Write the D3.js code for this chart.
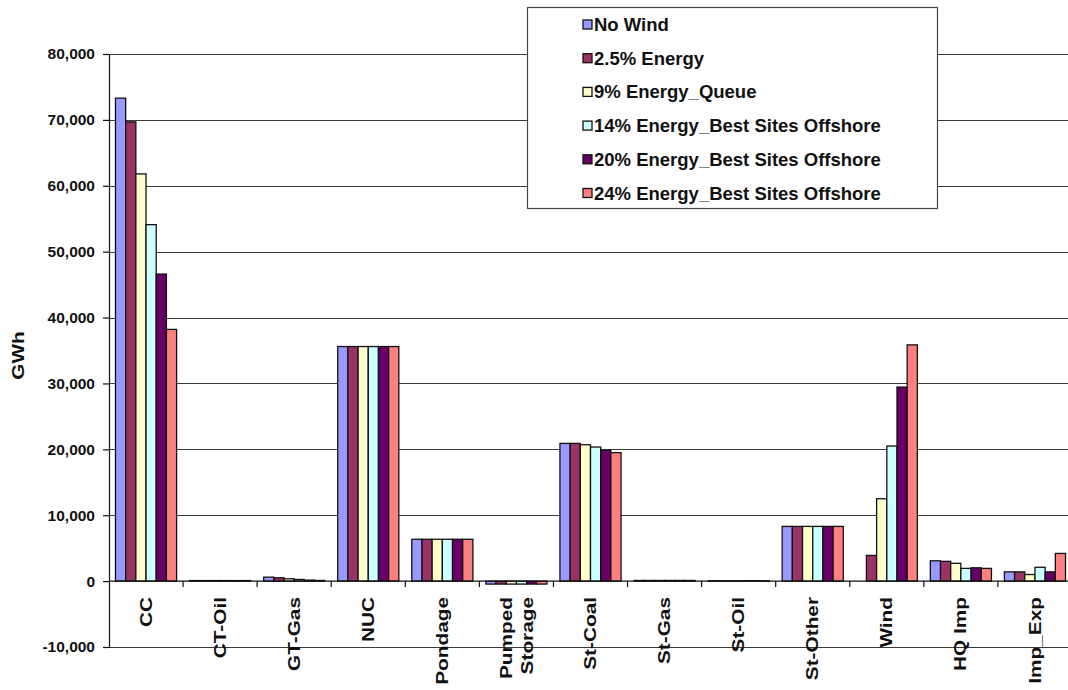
<!DOCTYPE html>
<html>
<head>
<meta charset="utf-8">
<script src="https://cdn.jsdelivr.net/npm/d3@7/dist/d3.min.js"></script>
<style>
  html, body { margin: 0; padding: 0; background: #ffffff; }
  svg { display: block; }
  text { font-family: "Liberation Sans", Arial, sans-serif; font-weight: bold; fill: #111; }
</style>
</head>
<body>
<svg id="chart" width="1068" height="690"></svg>
<script>
// Generation by unit type (GWh) under each wind scenario
const categories = ["CC", "CT-Oil", "GT-Gas", "NUC", "Pondage", "Pumped Storage",
  "St-Coal", "St-Gas", "St-Oil", "St-Other", "Wind", "HQ Imp", "Imp_Exp"];

const seriesNames = ["No Wind", "2.5% Energy", "9% Energy_Queue",
  "14% Energy_Best Sites Offshore", "20% Energy_Best Sites Offshore",
  "24% Energy_Best Sites Offshore"];

const seriesColors = ["#9999FF", "#993366", "#FFFFCC", "#CCFFFF", "#660066", "#FF8080"];

const noWind   = [73300, 80, 600, 35600, 6350, -450, 20900, 100, 60, 8300, 0,     3080, 1400];
const energy25 = [69700, 80, 500, 35600, 6350, -450, 20900, 100, 60, 8300, 3900,  3000, 1400];
const energy9  = [61800, 80, 350, 35600, 6350, -450, 20700, 100, 60, 8300, 12500, 2700, 1000];
const energy14 = [54100, 80, 250, 35600, 6350, -450, 20350, 100, 60, 8300, 20500, 1930, 2100];
const energy20 = [46600, 80, 150, 35600, 6350, -450, 19850, 100, 60, 8300, 29450, 2020, 1400];
const energy24 = [38200, 80, 100, 35600, 6350, -450, 19500, 100, 60, 8300, 35850, 1930, 4200];

const yTicks = [-10000, 0, 10000, 20000, 30000, 40000, 50000, 60000, 70000, 80000];
const yLabel = "GWh";

const seriesValues = [noWind, energy25, energy9, energy14, energy20, energy24];

const svg = d3.select("#chart");
const plotLeft = 109, plotRight = 1072, plotTop = 54, plotBottom = 647;

const x0 = d3.scaleBand().domain(categories).range([plotLeft, plotRight])
  .paddingInner(0.175).paddingOuter(0.0875);
const x1 = d3.scaleBand().domain(seriesNames).range([0, x0.bandwidth()]).padding(0);
const y = d3.scaleLinear().domain([-10000, 80000]).range([plotBottom, plotTop]);
const fmt = d3.formatLocale({ decimal: ".", thousands: ",", grouping: [3], currency: ["", ""], minus: "-" }).format(",");

// Horizontal gridlines
svg.append("g").selectAll("line")
  .data(yTicks.filter(d => d !== 0))
  .join("line")
  .attr("x1", plotLeft).attr("x2", plotRight)
  .attr("y1", d => Math.round(y(d)) + 0.5).attr("y2", d => Math.round(y(d)) + 0.5)
  .attr("stroke", "#3a3a3a").attr("stroke-width", 1);

// Bars
const groups = svg.append("g").selectAll("g")
  .data(categories)
  .join("g")
  .attr("transform", d => `translate(${x0(d)},0)`);

groups.selectAll("rect")
  .data((c, ci) => seriesNames.map((s, si) => ({ s, si, v: seriesValues[si][ci] })))
  .join("rect")
  .attr("x", d => x1(d.s))
  .attr("width", x1.bandwidth())
  .attr("y", d => y(Math.max(0, d.v)))
  .attr("height", d => Math.abs(y(d.v) - y(0)))
  .attr("fill", d => seriesColors[d.si])
  .attr("stroke", "#111")
  .attr("stroke-width", 1.3);

// Y axis
const yAxis = svg.append("g")
  .attr("transform", `translate(${plotLeft},0)`)
  .call(d3.axisLeft(y).tickValues(yTicks).tickFormat(fmt).tickSize(6).tickPadding(8));
yAxis.select(".domain").attr("stroke", "#111").attr("stroke-width", 1.2);
yAxis.selectAll(".tick line").attr("stroke", "#111").attr("stroke-width", 1.2);
yAxis.selectAll("text")
  .style("font-size", "15.5px")
  .style("font-family", "'Liberation Sans', Arial, sans-serif")
  .style("font-weight", "bold")
  .attr("fill", "#111");

// Zero baseline with category separators
const zeroY = y(0);
svg.append("line")
  .attr("x1", plotLeft).attr("x2", plotRight)
  .attr("y1", zeroY).attr("y2", zeroY)
  .attr("stroke", "#111").attr("stroke-width", 1.3);

svg.append("g").selectAll("line")
  .data(categories.slice(0, -1))
  .join("line")
  .attr("x1", d => x0(d) + x0.bandwidth() + x0.step() * x0.paddingInner() / 2)
  .attr("x2", d => x0(d) + x0.bandwidth() + x0.step() * x0.paddingInner() / 2)
  .attr("y1", zeroY).attr("y2", zeroY + 6)
  .attr("stroke", "#111").attr("stroke-width", 1.2);

// Rotated category labels
const labelTop = 597;
categories.forEach(c => {
  const cx = x0(c) + x0.bandwidth() / 2;
  const lines = c === "Pumped Storage" ? ["Pumped", "Storage"] : [c];
  lines.forEach((ln, i) => {
    const off = (i - (lines.length - 1) / 2) * 21;
    svg.append("text")
      .attr("transform", `translate(${cx + off},${labelTop}) rotate(-90) scale(1.3,1)`)
      .attr("text-anchor", "end")
      .attr("dominant-baseline", "central")
      .style("font-size", "16px")
      .text(ln);
  });
});

// Y axis title
svg.append("text")
  .attr("transform", `translate(18,${(plotTop + plotBottom) / 2 + 5}) rotate(-90) scale(1.3,1)`)
  .attr("text-anchor", "middle")
  .attr("dominant-baseline", "central")
  .style("font-size", "16px")
  .text(yLabel);

// Legend
const lg = svg.append("g");
lg.append("rect")
  .attr("x", 527.5).attr("y", 7.5).attr("width", 410).attr("height", 201)
  .attr("fill", "#ffffff").attr("stroke", "#444").attr("stroke-width", 1.2);

const rowY = d3.scaleLinear().domain([0, 5]).range([24.5, 193]);
seriesNames.forEach((s, i) => {
  const cy = rowY(i);
  lg.append("rect")
    .attr("x", 583).attr("y", cy - 4.5).attr("width", 9).attr("height", 9)
    .attr("fill", seriesColors[i]).attr("stroke", "#111").attr("stroke-width", 1.3);
  lg.append("text")
    .attr("x", 594).attr("y", cy)
    .attr("dominant-baseline", "central")
    .style("font-size", "18.5px")
    .text(s);
});
</script>
</body>
</html>
